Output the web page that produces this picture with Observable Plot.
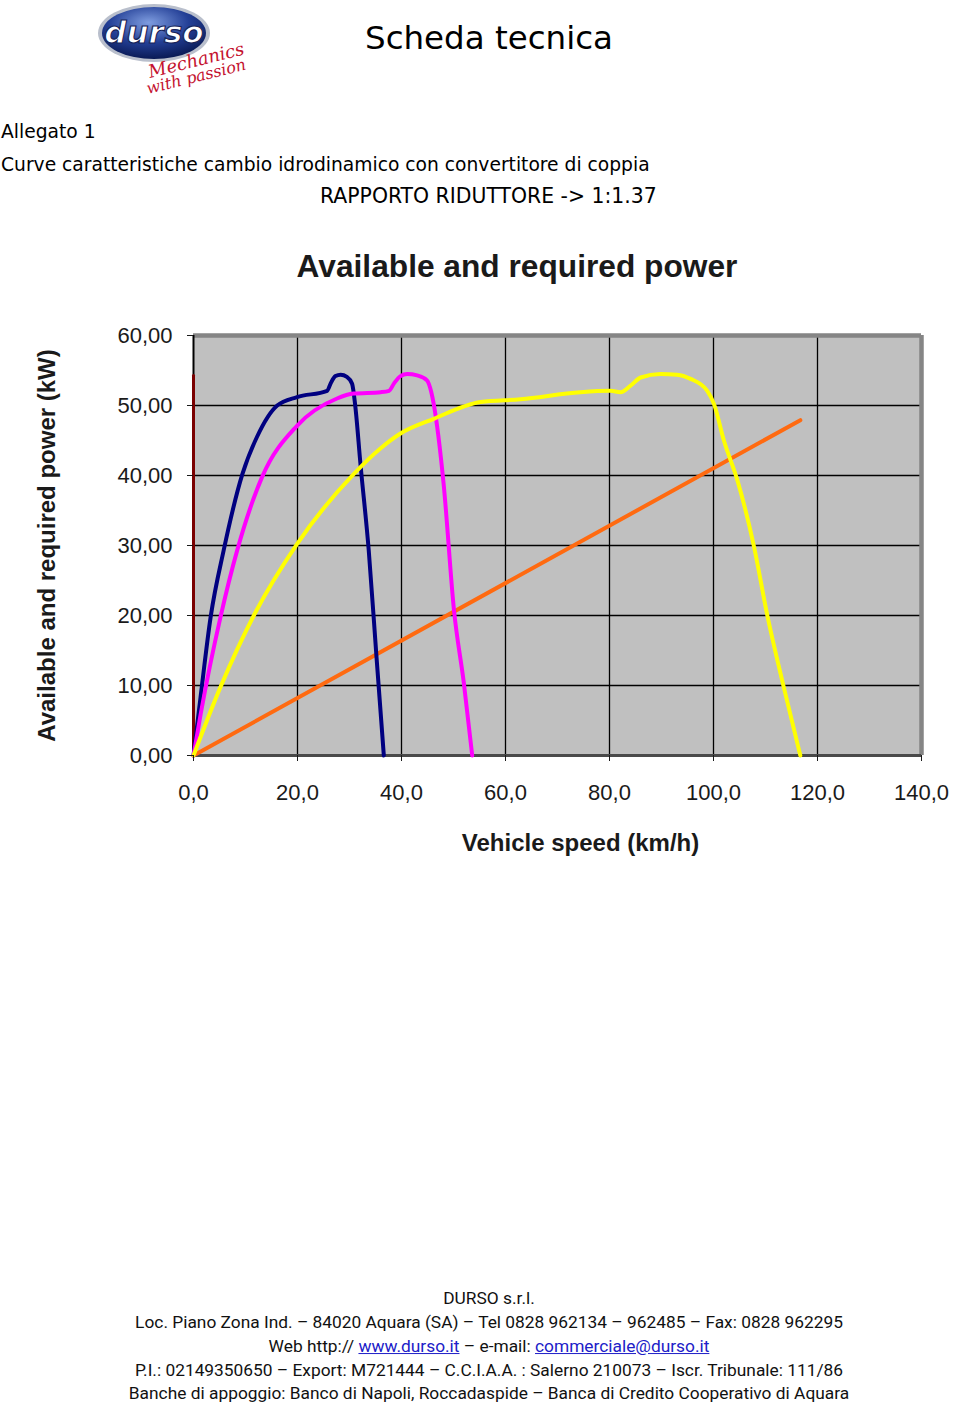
<!DOCTYPE html>
<html><head><meta charset="utf-8">
<script src="https://cdn.jsdelivr.net/npm/d3@7"></script>
<script src="https://cdn.jsdelivr.net/npm/@observablehq/plot@0.6"></script>
<style>
body{margin:0;background:#fff;width:960px;height:1405px;position:relative;overflow:hidden;font-family:"Liberation Sans",Arial,sans-serif;}
.abs{position:absolute;white-space:nowrap;line-height:1.15;}
.ctr{transform:translate(-50%,-50%);}
.lft{transform:translate(0,-50%);}
.hdr{font-family:"DejaVu Sans",sans-serif;color:#000;}
.ftr{font-family:"Liberation Sans Narrow","Roboto",sans-serif;color:#111;}
.ftr a{color:#2020c8;text-decoration:underline;}
#chart{position:absolute;left:0;top:320px;}
</style></head><body>

<svg class="abs" width="160" height="100" style="left:88px;top:0">
  <defs>
    <radialGradient id="lg" cx="45%" cy="30%" r="70%">
      <stop offset="0" stop-color="#7f9de0"/>
      <stop offset="0.55" stop-color="#233f96"/>
      <stop offset="1" stop-color="#0a1a55"/>
    </radialGradient>
  </defs>
  <ellipse cx="66" cy="33" rx="56" ry="29" fill="#b9bfcc"/>
  <ellipse cx="66" cy="33" rx="52" ry="26" fill="url(#lg)"/>
  <text x="66" y="43" text-anchor="middle" font-family="DejaVu Sans" font-weight="bold" font-size="31" fill="#fff" stroke="#16245a" stroke-width="1.2" font-style="italic">durso</text>
  <text x="62" y="78" font-family="DejaVu Serif" font-style="italic" font-size="18" fill="#c4122f" transform="rotate(-14 62 78)">Mechanics</text>
  <text x="60" y="94" font-family="DejaVu Serif" font-style="italic" font-size="16" fill="#c4122f" transform="rotate(-14 60 94)">with passion</text>
</svg>

<div id="t0" class="abs ctr hdr" style="left:489px;top:39px;font-size:34px;">Scheda tecnica</div>
<div id="t1" class="abs lft hdr" style="left:1px;top:132px;font-size:18px;">Allegato 1</div>
<div id="t2" class="abs lft hdr" style="left:1px;top:165px;font-size:18px;">Curve caratteristiche cambio idrodinamico con convertitore di coppia</div>
<div id="t3" class="abs lft hdr" style="left:320px;top:197px;font-size:18px;">RAPPORTO RIDUTTORE -&gt; 1:1.37</div>

<div id="ct" class="abs ctr" style="left:517px;top:266px;font-size:32px;font-weight:bold;color:#1a1a1a;">Available and required power</div>

<div id="chart"></div>

<div id="f0" class="abs ctr ftr" style="left:489px;top:1299px;font-size:18px;">DURSO s.r.l.</div>
<div id="f1" class="abs ctr ftr" style="left:489px;top:1323px;font-size:18px;">Loc. Piano Zona Ind. – 84020 Aquara (SA) – Tel 0828 962134 – 962485 – Fax: 0828 962295</div>
<div id="f2" class="abs ctr ftr" style="left:489px;top:1347px;font-size:18px;">Web http:// <a>www.durso.it</a> – e-mail: <a>commerciale@durso.it</a></div>
<div id="f3" class="abs ctr ftr" style="left:489px;top:1371px;font-size:18px;">P.I.: 02149350650 – Export: M721444 – C.C.I.A.A. : Salerno 210073 – Iscr. Tribunale: 111/86</div>
<div id="f4" class="abs ctr ftr" style="left:489px;top:1394px;font-size:18px;">Banche di appoggio: Banco di Napoli, Roccadaspide – Banca di Credito Cooperativo di Aquara</div>

<script>
// ---- data ----
const speedTicks = [0, 20, 40, 60, 80, 100, 120, 140];
const powerTicks = [0, 10, 20, 30, 40, 50, 60];

const curveASpeed = [0, 1.35, 3.3, 5.8, 9.4, 12.2, 16.1, 19.9, 25.7, 26.4, 27.3, 28.3, 29.5, 30.5, 31.1, 32.1, 33.7, 35.2, 36.6];
const curveAPower = [0, 8.3, 19.8, 29.3, 40.2, 45.5, 50.0, 51.2, 52.1, 53.2, 54.2, 54.4, 54.1, 53.1, 50.0, 41.7, 29.3, 14.0, 0];

const curveBSpeed = [0, 1.4, 5.2, 8.4, 13.2, 19.9, 27.6, 30.8, 36.0, 37.6, 38.6, 39.8, 41.1, 43.0, 44.9, 45.7, 46.2, 48.1, 50.1, 52.0, 53.6];
const curveBPower = [0, 6.0, 19.8, 29.3, 39.8, 47.1, 51.0, 51.7, 51.9, 52.1, 53.2, 54.2, 54.5, 54.3, 53.6, 52.0, 50.2, 38.8, 20.7, 10.3, 0];

const curveCSpeed = [0, 5.2, 11.6, 19.9, 30.8, 36.0, 39.8, 46.2, 55.2, 62.9, 74.4, 80.2, 82.1, 84.0, 86.0, 89.8, 93.0, 95.6, 98.8, 100.1, 102.0, 104.6, 107.8, 110.3, 113.5, 116.7];
const curveCPower = [0, 9.8, 20.0, 30.2, 40.2, 43.9, 46.0, 48.1, 50.5, 50.9, 51.9, 52.1, 51.9, 52.8, 54.0, 54.5, 54.4, 53.8, 52.1, 50.2, 45.0, 39.3, 29.8, 20.2, 9.8, 0];

const requiredSpeed = [0, 116.7];
const requiredPower = [0, 47.9];

const startSpeed = [0, 0];
const startPower = [0, 54.3];

// ---- styles ----
const seriesColors = {A: "#000080", B: "#ff00ff", C: "#ffff00", required: "#ff6a10", start: "#7a0000"};

const toRows = (name, xs, ys) => xs.map((x, i) => ({series: name, speed: x, power: ys[i]}));
const smoothRows = [
  ...toRows("A", curveASpeed, curveAPower),
  ...toRows("B", curveBSpeed, curveBPower),
  ...toRows("C", curveCSpeed, curveCPower)
];
const requiredRows = toRows("required", requiredSpeed, requiredPower);
const startRows = toRows("start", startSpeed, startPower);

const yFmt = d => d3.format(".2f")(d).replace(".", ",");
const xFmt = d => d3.format(".1f")(d).replace(".", ",");

const chart = Plot.plot({
  width: 960, height: 560,
  marginTop: 15, marginBottom: 125, marginLeft: 193, marginRight: 39,
  style: {background: "transparent", fontFamily: "'Liberation Sans', Arial, sans-serif", color: "#1a1a1a", overflow: "visible"},
  x: {domain: [0, 140]},
  y: {domain: [0, 60]},
  color: {domain: Object.keys(seriesColors), range: Object.values(seriesColors)},
  marks: [
    Plot.frame({fill: "#c0c0c0", stroke: null}),
    Plot.gridY({ticks: powerTicks.filter(d => d > 0 && d < 60), stroke: "#000", strokeOpacity: 1, strokeWidth: 1.3}),
    Plot.gridX({ticks: speedTicks.filter(d => d > 0 && d < 140), stroke: "#000", strokeOpacity: 1, strokeWidth: 1.3}),
    Plot.ruleY([60], {stroke: "#858585", strokeWidth: 4.5}),
    Plot.ruleX([140], {stroke: "#858585", strokeWidth: 4.5}),
    Plot.ruleY([0], {stroke: "#4a4a4a", strokeWidth: 3}),
    Plot.ruleX([0], {stroke: "#000", strokeWidth: 2}),
    Plot.line(startRows, {x: "speed", y: "power", stroke: "series", strokeWidth: 3}),
    Plot.line(requiredRows, {x: "speed", y: "power", stroke: "series", strokeWidth: 4}),
    Plot.line(smoothRows, {x: "speed", y: "power", z: "series", stroke: "series", strokeWidth: 4, curve: "monotone-x"}),
    Plot.axisX({ticks: speedTicks, tickSize: 6, tickPadding: 23, tickFormat: xFmt, fontSize: 22, label: null}),
    Plot.axisY({ticks: powerTicks, tickSize: 6, tickPadding: 15, tickFormat: yFmt, fontSize: 22, label: null}),
    Plot.text(["Vehicle speed (km/h)"], {text: d => d, frameAnchor: "bottom", dx: 23, dy: 95, fontSize: 24, fontWeight: "bold"}),
    Plot.text(["Available and required power (kW)"], {text: d => d, frameAnchor: "left", textAnchor: "middle", dx: -146, rotate: -90, fontSize: 24, fontWeight: "bold"})
  ]
});
document.getElementById("chart").appendChild(chart);

// fit header / footer text widths to the reference layout
function sizeFor(el, target) {
  const w = el.getBoundingClientRect().width;
  const fs = parseFloat(getComputedStyle(el).fontSize);
  return fs * target / w;
}
const t0 = document.getElementById("t0");
t0.style.fontSize = sizeFor(t0, 248) + "px";
const hs = sizeFor(document.getElementById("t2"), 649);
const t3s = sizeFor(document.getElementById("t3"), 337);
["t1", "t2"].forEach(id => document.getElementById(id).style.fontSize = hs + "px");
document.getElementById("t3").style.fontSize = t3s + "px";
const ct = document.getElementById("ct");
ct.style.fontSize = sizeFor(ct, 441) + "px";
const fs = sizeFor(document.getElementById("f1"), 708);
["f0", "f1", "f2", "f3", "f4"].forEach(id => document.getElementById(id).style.fontSize = fs + "px");
</script>
</body></html>
